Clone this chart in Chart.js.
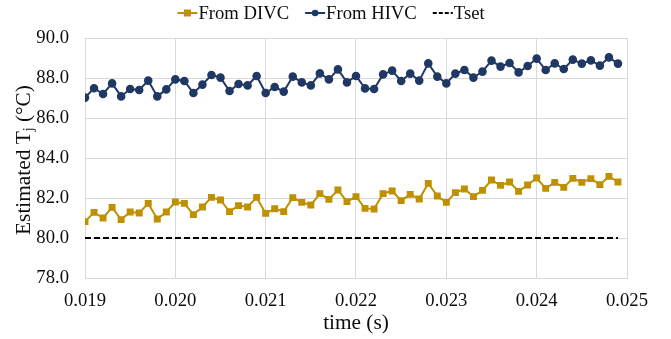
<!DOCTYPE html>
<html>
<head>
<meta charset="utf-8">
<script src="https://cdn.jsdelivr.net/npm/chart.js@4/dist/chart.umd.min.js"></script>
<style>
  html, body { margin: 0; padding: 0; background: #fff; }
  #wrap { width: 671px; height: 339px; }
</style>
</head>
<body>
<div id="wrap"><canvas id="tjChart" width="671" height="339"></canvas></div>
<script>
// sample times (s), one every 0.1 ms
const times = [];
for (let i = 0; i < 60; i++) times.push(+(0.019 + i * 0.0001).toFixed(4));

const fromDIVC = [
  80.82, 81.28, 81.00, 81.53, 80.92, 81.30, 81.25, 81.73, 80.95, 81.30,
  81.80, 81.73, 81.17, 81.55, 82.03, 81.90, 81.32, 81.62, 81.55, 82.03,
  81.23, 81.46, 81.32, 82.02, 81.78, 81.65, 82.22, 81.93, 82.40, 81.82,
  82.07, 81.48, 81.45, 82.22, 82.35, 81.87, 82.18, 81.95, 82.73, 82.10,
  81.78, 82.27, 82.45, 82.07, 82.38, 82.90, 82.63, 82.80, 82.33, 82.65,
  83.00, 82.48, 82.78, 82.53, 82.98, 82.78, 82.97, 82.67, 83.08, 82.80
];
const fromHIVC = [
  87.02, 87.49, 87.20, 87.73, 87.08, 87.45, 87.40, 87.87, 87.08, 87.43,
  87.93, 87.85, 87.25, 87.67, 88.15, 88.02, 87.35, 87.70, 87.63, 88.10,
  87.25, 87.55, 87.32, 88.07, 87.78, 87.63, 88.23, 87.93, 88.43, 87.78,
  88.10, 87.48, 87.45, 88.18, 88.37, 87.85, 88.22, 87.87, 88.73, 88.07,
  87.73, 88.22, 88.40, 88.02, 88.32, 88.87, 88.57, 88.75, 88.28, 88.60,
  88.97, 88.40, 88.73, 88.45, 88.92, 88.72, 88.88, 88.62, 89.03, 88.72
];
const tSet = 80;

const xTicks = [0.019, 0.020, 0.021, 0.022, 0.023, 0.024, 0.025];
const yTicks = [78, 80, 82, 84, 86, 88, 90];

const GOLD = '#BF9000';
const NAVY = '#203864';
const INK = '#0d0d0d';
const FONT = '"Liberation Serif", "Times New Roman", serif';
const TICK_PX = 18.67;   // 14pt
const TITLE_PX = 21.33;  // 16pt

const pts = arr => arr.map((v, i) => ({ x: times[i], y: v }));

// legend across the top: short line + marker, then the label
const topLegend = {
  id: 'topLegend',
  afterDraw(chart) {
    const ctx = chart.ctx;
    const sets = chart.data.datasets;
    const swW = 21, gap = 16;
    ctx.save();
    ctx.font = TICK_PX + 'px ' + FONT;
    const widths = sets.map(ds => ctx.measureText(ds.label).width);
    const total = widths.reduce((a, w) => a + w + swW, 0) + gap * (sets.length - 1);
    let x = 331 - total / 2;
    const y = 13;
    sets.forEach((ds, i) => {
      ctx.strokeStyle = ds.borderColor;
      ctx.fillStyle = ds.borderColor;
      ctx.lineWidth = 2;
      ctx.setLineDash(ds.borderDash ? [4, 2] : []);
      ctx.beginPath(); ctx.moveTo(x, y); ctx.lineTo(x + 20, y); ctx.stroke();
      ctx.setLineDash([]);
      if (ds.pointRadius > 0) {
        if (ds.pointStyle === 'rect') ctx.fillRect(x + 6.5, y - 3.5, 7, 7);
        else { ctx.beginPath(); ctx.arc(x + 10, y, 3.3, 0, Math.PI * 2); ctx.fill(); }
      }
      ctx.fillStyle = INK;
      ctx.textBaseline = 'middle';
      ctx.fillText(ds.label, x + swW, y + 1);
      x += swW + widths[i] + gap;
    });
    ctx.restore();
  }
};

// y-axis title with subscript j
const yTitle = {
  id: 'yTitle',
  afterDraw(chart) {
    const ctx = chart.ctx;
    const a = chart.chartArea;
    ctx.save();
    ctx.translate(24, (a.top + a.bottom) / 2 + 2);
    ctx.rotate(-Math.PI / 2);
    ctx.fillStyle = INK;
    ctx.textBaseline = 'middle';
    const big = TITLE_PX + 'px ' + FONT, small = '14px ' + FONT;
    ctx.font = big;
    const p1 = 'Estimated T', p3 = ' (°C)';
    const w1 = ctx.measureText(p1).width, w3 = ctx.measureText(p3).width;
    ctx.font = small;
    const w2 = ctx.measureText('j').width;
    let x = -(w1 + w2 + w3) / 2;
    ctx.font = big; ctx.fillText(p1, x, 0); x += w1;
    ctx.font = small; ctx.fillText('j', x, 5); x += w2;
    ctx.font = big; ctx.fillText(p3, x, 0);
    ctx.restore();
  }
};

new Chart(document.getElementById('tjChart'), {
  type: 'line',
  data: {
    datasets: [
      {
        label: 'From DIVC',
        data: pts(fromDIVC),
        borderColor: GOLD, backgroundColor: GOLD,
        borderWidth: 2, pointStyle: 'rect', pointRadius: 3.5
      },
      {
        label: 'From HIVC',
        data: pts(fromHIVC),
        borderColor: NAVY, backgroundColor: NAVY,
        borderWidth: 2, pointStyle: 'circle', pointRadius: 3.3
      },
      {
        label: 'Tset',
        data: [{ x: times[0], y: tSet }, { x: times[times.length - 1], y: tSet }],
        borderColor: '#000', borderWidth: 2, borderDash: [6, 3],
        pointRadius: 0
      }
    ]
  },
  options: {
    responsive: false,
    animation: false,
    layout: { padding: { top: 38, right: 44, bottom: 0, left: 0 } },
    plugins: {
      tooltip: { enabled: false },
      legend: { display: false }
    },
    scales: {
      x: {
        type: 'linear',
        min: 0.019, max: 0.025,
        afterBuildTicks(s) { s.ticks = xTicks.map(v => ({ value: v })); },
        afterFit(s) { s.height = 61; },
        ticks: {
          font: { family: FONT, size: TICK_PX }, color: INK,
          padding: 12, maxRotation: 0,
          callback: v => v.toFixed(3)
        },
        grid: { color: '#d9d9d9', drawTicks: false },
        border: { color: '#d9d9d9' },
        title: {
          display: true, text: 'time (s)',
          font: { family: FONT, size: TITLE_PX }, color: INK,
          padding: { top: 0, bottom: 3 }
        }
      },
      y: {
        min: 78, max: 90,
        afterBuildTicks(s) { s.ticks = yTicks.map(v => ({ value: v })); },
        afterFit(s) { s.width = 85; },
        ticks: {
          font: { family: FONT, size: TICK_PX }, color: INK,
          padding: 16,
          callback: v => v.toFixed(1)
        },
        grid: { color: '#d9d9d9', drawTicks: false },
        border: { color: '#d9d9d9' }
      }
    }
  },
  plugins: [topLegend, yTitle]
});
</script>
</body>
</html>
